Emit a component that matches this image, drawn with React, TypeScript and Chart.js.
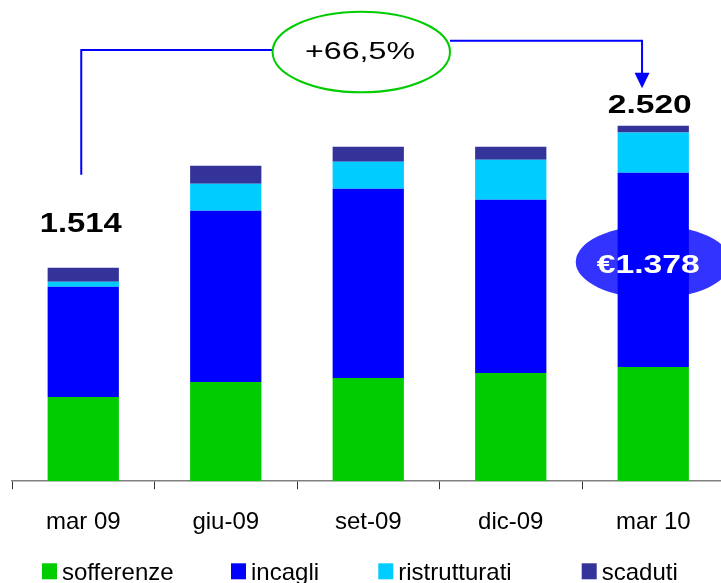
import React, { useEffect, useRef } from "react";
import { Chart, registerables } from "chart.js";

Chart.register(...registerables);

// Quarterly non-performing loans, stacked by category (€ mln)
const periods = ["mar 09", "giu-09", "set-09", "dic-09", "mar 10"];
const sofferenze = [597, 703, 731, 767, 809];
const incagli = [781, 1214, 1342, 1228, 1378];
const ristrutturati = [36, 192, 192, 284, 284];
const scaduti = [100, 128, 106, 92, 49];

const seriesNames = ["sofferenze", "incagli", "ristrutturati", "scaduti"];
const seriesColors = ["#00CC00", "#0000FF", "#00CCFF", "#333399"];
const growthLabel = "+66,5%";
const yMax = 3000;

const FONT = '"Liberation Sans", Arial, Helvetica, sans-serif';

const fmt = (n: number) =>
  String(Math.round(n)).replace(/\B(?=(\d{3})+(?!\d))/g, ".");

const totals = periods.map(
  (_, i) => sofferenze[i] + incagli[i] + ristrutturati[i] + scaduti[i]
);

// Draws centred text squeezed/stretched to a given width.
function fitText(
  ctx: CanvasRenderingContext2D,
  text: string,
  cx: number,
  baseline: number,
  font: string,
  width: number,
  color: string
) {
  ctx.save();
  ctx.font = font;
  const w = ctx.measureText(text).width || 1;
  ctx.translate(cx, baseline);
  ctx.scale(width / w, 1);
  ctx.fillStyle = color;
  ctx.textAlign = "center";
  ctx.textBaseline = "alphabetic";
  ctx.fillText(text, 0, 0);
  ctx.restore();
}

const annotations = {
  id: "annotations",
  beforeDatasetsDraw(chart: any) {
    const ctx: CanvasRenderingContext2D = chart.ctx;
    const el = chart.getDatasetMeta(1).data[4];
    const cy = (el.y + el.base) / 2 - 8;
    ctx.save();
    ctx.fillStyle = "#3333FF";
    ctx.beginPath();
    ctx.ellipse(el.x, cy, 77.5, 36.5, 0, 0, Math.PI * 2);
    ctx.fill();
    ctx.restore();
  },
  afterDatasetsDraw(chart: any) {
    const ctx: CanvasRenderingContext2D = chart.ctx;
    const el = chart.getDatasetMeta(1).data[4];
    const cy = (el.y + el.base) / 2 - 8;
    fitText(ctx, "€" + fmt(incagli[4]), el.x - 5, cy + 11.5, `bold 26px ${FONT}`, 103, "#FFFFFF");
  },
  afterDraw(chart: any) {
    const ctx: CanvasRenderingContext2D = chart.ctx;
    const first = chart.getDatasetMeta(3).data[0];
    const last = chart.getDatasetMeta(3).data[4];

    // totals above first and last bar
    fitText(ctx, fmt(totals[0]), first.x - 2.5, first.y - 35.3, `bold 27px ${FONT}`, 82, "#000");
    fitText(ctx, fmt(totals[4]), last.x - 3.5, last.y - 12.7, `bold 26px ${FONT}`, 84, "#000");

    // growth connector
    const lx = first.x - 2;
    const rx = last.x - 11.2;
    const ex = 361.3, ey = 52, erx = 88.7, ery = 40.3;
    ctx.save();
    ctx.strokeStyle = "#0000FF";
    ctx.lineWidth = 2;
    ctx.beginPath();
    ctx.moveTo(lx, first.y - 93);
    ctx.lineTo(lx, 50);
    ctx.lineTo(ex - erx, 50);
    ctx.stroke();
    ctx.beginPath();
    ctx.moveTo(ex + erx, 40.7);
    ctx.lineTo(rx, 40.7);
    ctx.lineTo(rx, 74);
    ctx.stroke();
    ctx.fillStyle = "#0000FF";
    ctx.beginPath();
    ctx.moveTo(rx - 7.5, 72.7);
    ctx.lineTo(rx + 7.5, 72.7);
    ctx.lineTo(rx, 88.3);
    ctx.closePath();
    ctx.fill();

    ctx.strokeStyle = "#00CC00";
    ctx.lineWidth = 2;
    ctx.fillStyle = "#FFFFFF";
    ctx.beginPath();
    ctx.ellipse(ex, ey, erx, ery, 0, 0, Math.PI * 2);
    ctx.fill();
    ctx.stroke();
    ctx.restore();
    fitText(ctx, growthLabel, 360, 59, `23px ${FONT}`, 110, "#000");

    // legend
    const legendX = [42, 231, 378.3, 581.7];
    ctx.save();
    ctx.font = `24px ${FONT}`;
    ctx.textBaseline = "alphabetic";
    ctx.textAlign = "left";
    chart.data.datasets.forEach((ds: any, i: number) => {
      ctx.fillStyle = ds.backgroundColor;
      ctx.fillRect(legendX[i], 563.3, 15, 16);
      ctx.fillStyle = "#000";
      ctx.fillText(ds.label, legendX[i] + 20, 579.5);
    });
    ctx.restore();
  },
};

export default function App() {
  const ref = useRef<HTMLCanvasElement | null>(null);

  useEffect(() => {
    if (!ref.current) return;
    const series = [sofferenze, incagli, ristrutturati, scaduti];
    const chart = new Chart(ref.current, {
      type: "bar",
      data: {
        labels: periods,
        datasets: series.map((values, i) => ({
          label: seriesNames[i],
          data: values,
          backgroundColor: seriesColors[i],
          borderWidth: 0,
          barPercentage: 1,
          categoryPercentage: 0.5,
        })),
      },
      options: {
        responsive: false,
        animation: false,
        devicePixelRatio: 1,
        layout: { padding: { left: 12, right: 15.5, top: 58, bottom: 27 } },
        plugins: {
          legend: { display: false },
          tooltip: { enabled: false },
        },
        scales: {
          x: {
            stacked: true,
            offset: true,
            z: 1,
            grid: {
              offset: true,
              drawOnChartArea: false,
              drawTicks: true,
              tickLength: 8,
              color: "#333333",
              lineWidth: 1,
            },
            border: { color: "#808080", width: 1.5 },
            ticks: {
              color: "#000",
              font: { family: FONT, size: 24 },
              padding: 19,
            },
          },
          y: { stacked: true, display: false, min: 0, max: yMax },
        },
      },
      plugins: [annotations],
    });
    return () => chart.destroy();
  }, []);

  return (
    <div
      style={{
        position: "fixed",
        left: 0,
        top: 0,
        width: 721,
        height: 583,
        overflow: "hidden",
        background: "#FFFFFF",
      }}
    >
      <canvas ref={ref} width={740} height={583} style={{ display: "block" }} />
    </div>
  );
}
